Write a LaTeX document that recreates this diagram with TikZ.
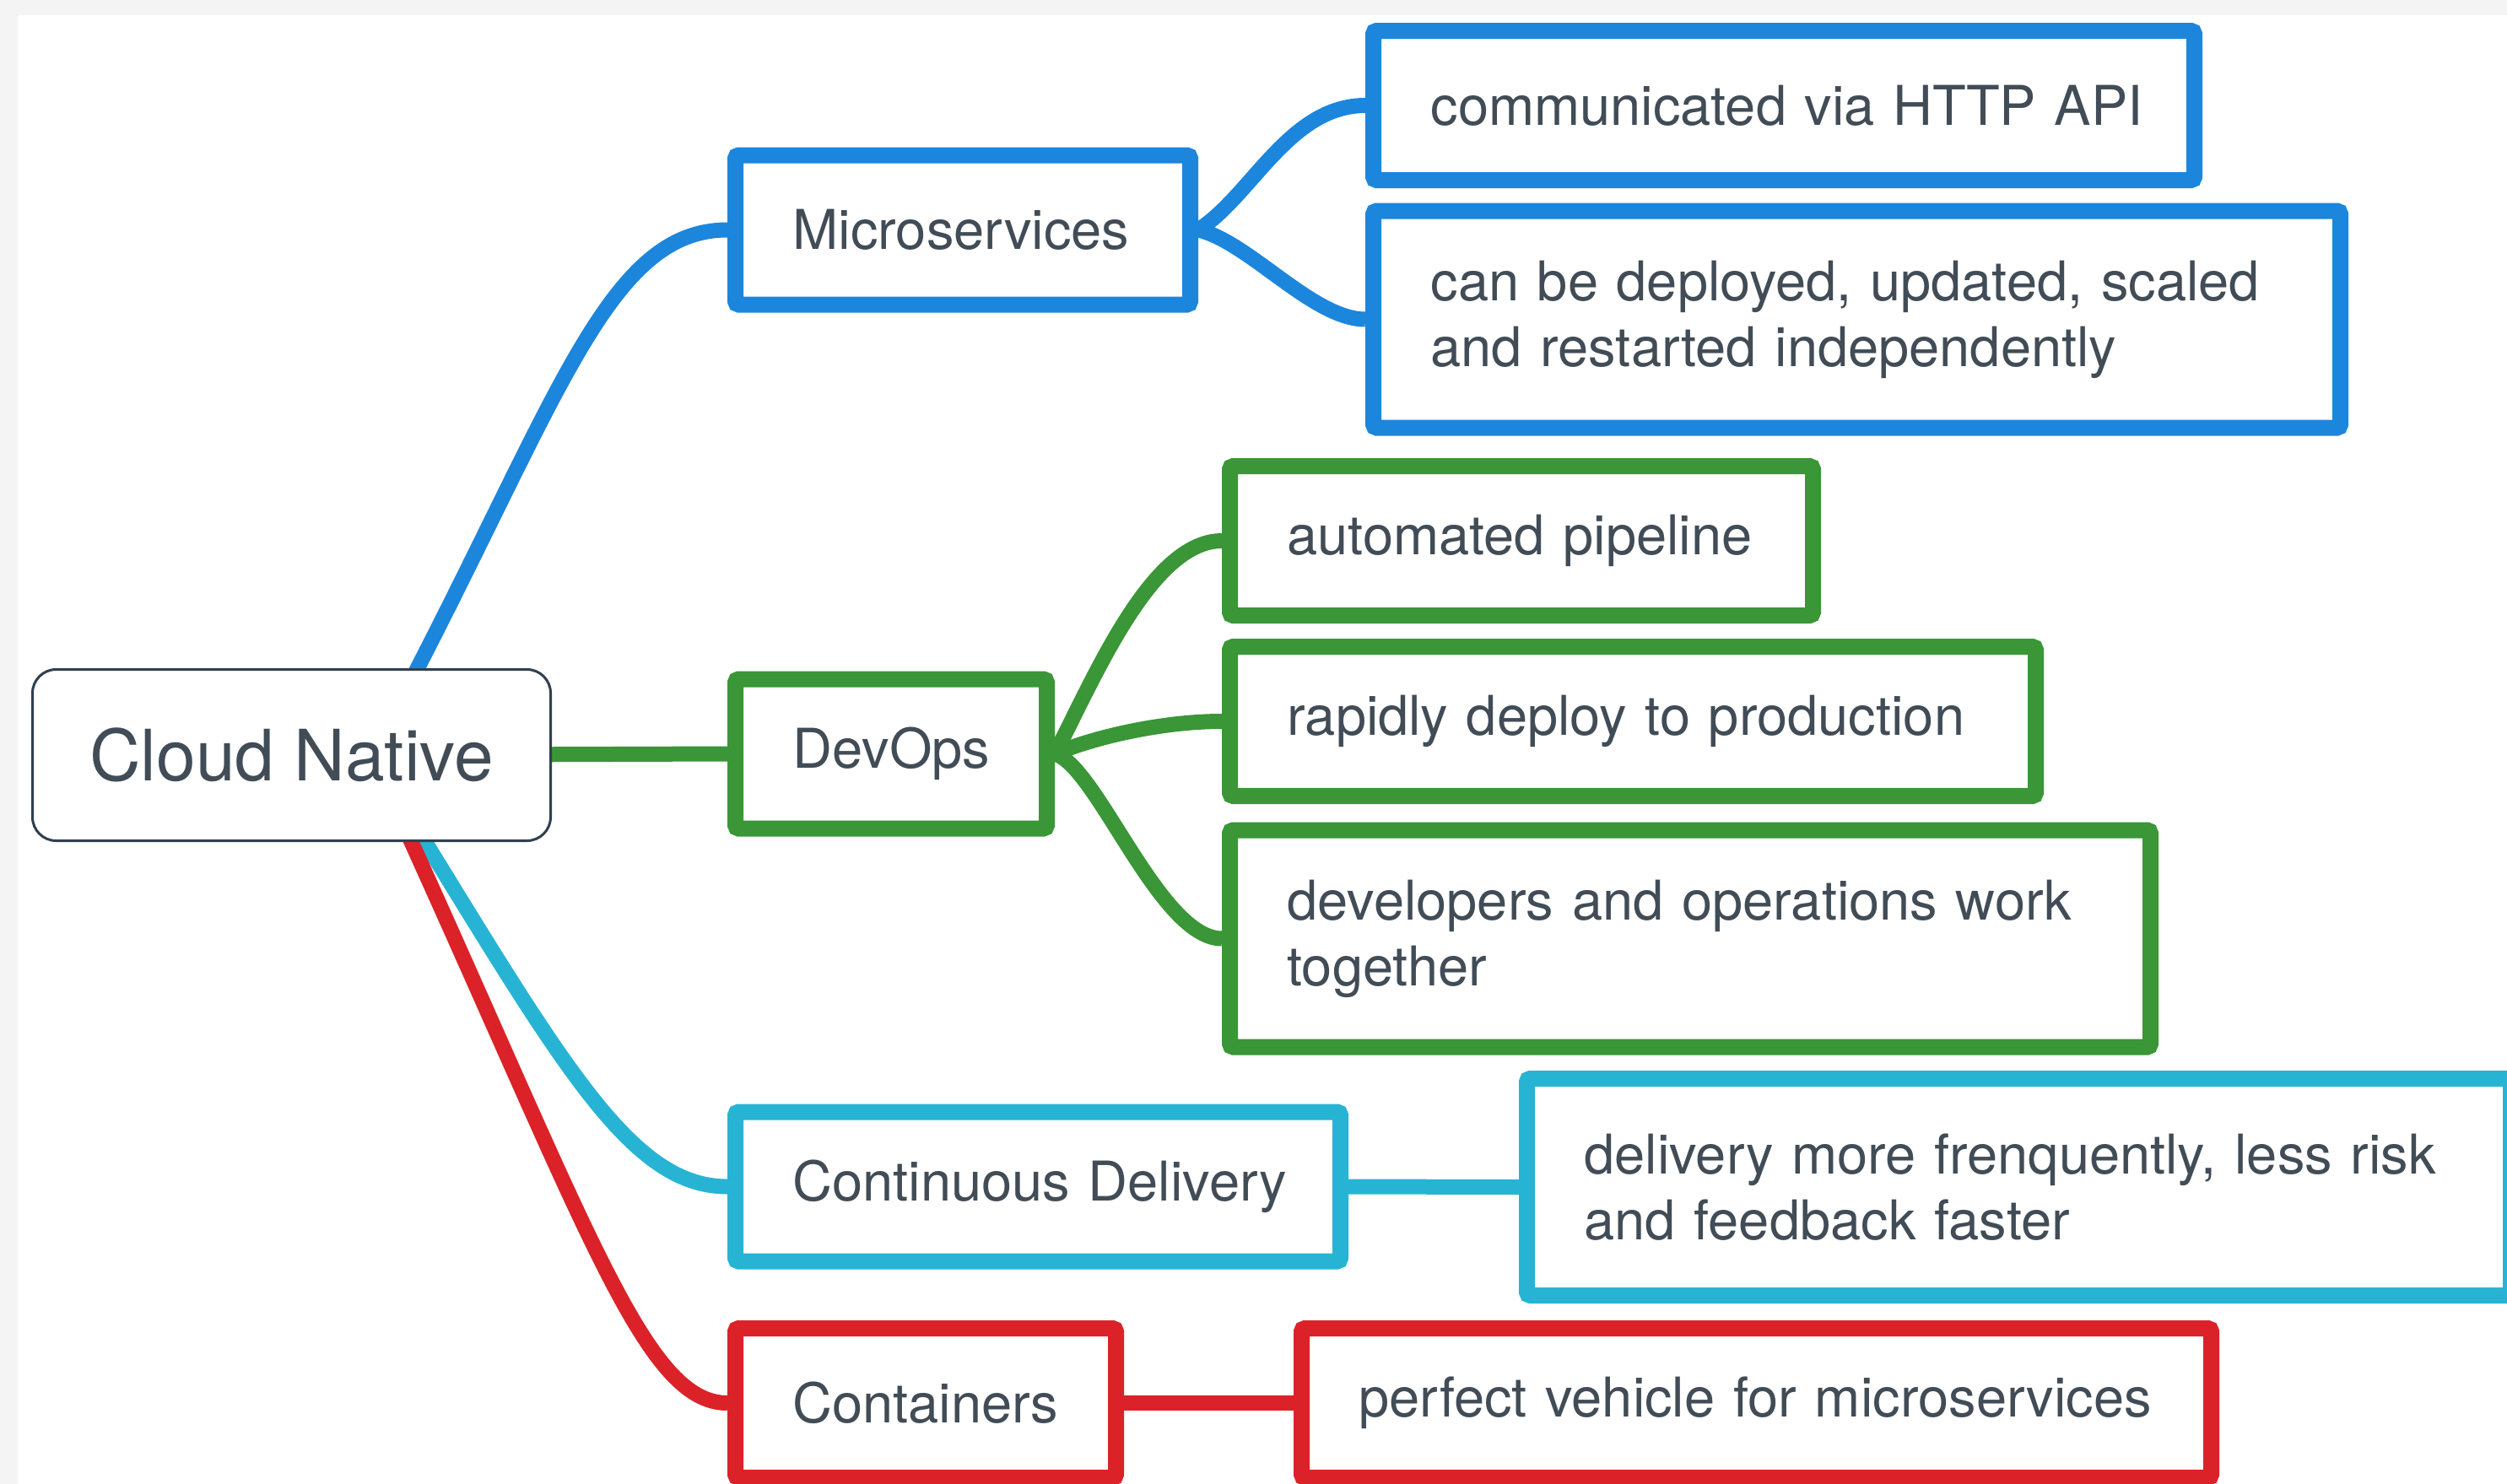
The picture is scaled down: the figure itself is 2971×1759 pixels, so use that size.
\documentclass[tikz,border=0pt]{standalone}
\usepackage{fontspec}
\setmainfont{TeX Gyre Heros}
\usetikzlibrary{calc}

\definecolor{mblue}{HTML}{1C86DD}
\definecolor{mgreen}{HTML}{3A9637}
\definecolor{mcyan}{HTML}{27B4D4}
\definecolor{mred}{HTML}{DB2229}
\definecolor{ink}{HTML}{414C56}
\definecolor{rootline}{HTML}{2F4050}
\definecolor{framegray}{HTML}{F4F4F4}

\pgfdeclarelayer{bg}
\pgfdeclarelayer{edges}
\pgfsetlayers{bg,edges,main}

% one drawing unit
\newcommand\pxu{0.25pt}

\tikzset{
  rootbox/.style={draw=rootline, line width=3*\pxu, fill=white,
    rounded corners=28*\pxu, minimum width=614*\pxu, minimum height=203*\pxu,
    inner sep=0pt, text=ink, font=\fontsize{21pt}{25pt}\selectfont},
  topic/.style={draw=#1, line width=19*\pxu, fill=white, rounded corners=4*\pxu,
    inner xsep=62*\pxu, inner ysep=0pt, text=ink, align=left, anchor=west,
    font=\fontsize{16.25pt}{19.5pt}\selectfont,
    execute at begin node={\leftskip=1.5pt}},
  oneline/.style={minimum height=44.25pt},
  twoline/.style={minimum height=64.25pt},
  link/.style={draw=#1, line width=18*\pxu},
}

\begin{document}
\begin{tikzpicture}[x=0.25pt, y=-0.25pt]
\useasboundingbox (0,0) rectangle (2971,1759);

\begin{pgfonlayer}{bg}
  \fill[framegray] (0,0) rectangle (2971,1759);
  \fill[white] (21,18) rectangle (2971,1759);
\end{pgfonlayer}

% central topic
\node[rootbox] (root) at (345.5,895) {Cloud Native};
\coordinate (hub) at ($(root.center)+(95,0)$);

% main branches
\node[topic=mblue,  oneline, text width=103.75pt] (micro) at (862,272.5) {\mbox{Microservices}};
\node[topic=mgreen, oneline, text width=61.25pt]  (devops) at (862,893.5) {\mbox{DevOps}};
\node[topic=mcyan,  oneline, text width=148.25pt] (cd) at (862,1406.5) {\mbox{Continuous Delivery}};
\node[topic=mred,   oneline, text width=81.75pt]  (containers) at (862,1663) {\mbox{Containers}};

% sub-topics
\node[topic=mblue, oneline, text width=212.25pt] (http) at (1618,125) {\mbox{communicated via HTTP API}};
\node[topic=mblue, twoline, text width=255.5pt] (deploy) at (1618,378.5)
  {\mbox{can be deployed, updated, scaled}\\\mbox{and restarted independently}};

\node[topic=mgreen, oneline, text width=141.75pt] (pipeline) at (1448,641) {\mbox{automated pipeline}};
\node[topic=mgreen, oneline, text width=207.75pt] (rapid) at (1448,855) {\mbox{rapidly deploy to production}};
\node[topic=mgreen, twoline, text width=241.75pt] (together) at (1448,1112.5)
  {\mbox{developers and operations work}\\together};

\node[topic=mcyan, twoline, text width=260.5pt] (freq) at (1800,1407)
  {\mbox{delivery more frenquently, less risk}\\\mbox{and feedback faster}};

\node[topic=mred, oneline, text width=238.5pt] (vehicle) at (1533,1663) {\mbox{perfect vehicle for microservices}};

\begin{pgfonlayer}{edges}
  % from the central topic
  \draw[link=mblue] (hub) .. controls ($(hub)+(216,-400)$) and ($(micro.west)+(-150,0)$) .. (micro.west);
  \draw[link=mgreen] (hub) -- (devops.west);
  \draw[link=mcyan] (hub) .. controls ($(hub)+(217,350)$) and ($(cd.west)+(-122,0)$) .. (cd.west);
  \draw[link=mred] (hub) .. controls ($(hub)+(253,550)$) and ($(containers.west)+(-102,0)$) .. (containers.west);

  % Microservices
  \draw[link=mblue] (micro.east) .. controls ($(micro.east)+(63,-40)$) and ($(http.west)+(-90,0)$) .. (http.west);
  \draw[link=mblue] (micro.east) .. controls ($(micro.east)+(60,14)$) and ($(deploy.west)+(-62,0)$) .. (deploy.west);

  % DevOps
  \draw[link=mgreen] (devops.east) .. controls ($(devops.east)+(45,-85)$) and ($(pipeline.west)+(-85,0)$) .. (pipeline.west);
  \draw[link=mgreen] (devops.east) .. controls ($(devops.east)+(50,-21)$) and ($(rapid.west)+(-68,0)$) .. (rapid.west);
  \draw[link=mgreen] (devops.east) .. controls ($(devops.east)+(50,14)$) and ($(together.west)+(-74,0)$) .. (together.west);

  % Continuous Delivery and Containers
  \draw[link=mcyan] (cd.east) -- (freq.west);
  \draw[link=mred] (containers.east) -- (vehicle.west);
\end{pgfonlayer}
\end{tikzpicture}
\end{document}
